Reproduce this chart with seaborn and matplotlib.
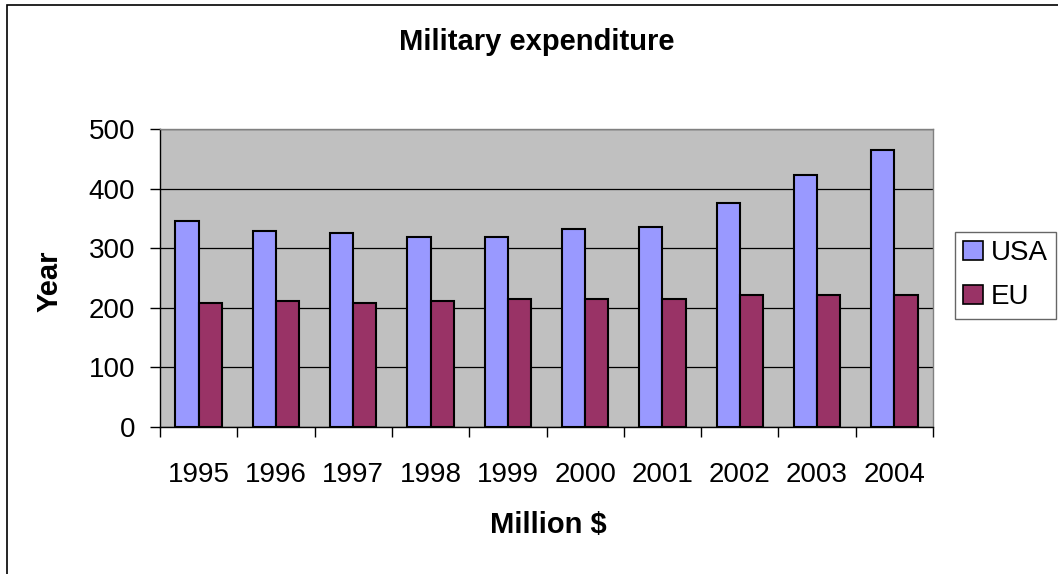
import matplotlib
matplotlib.use("Agg")
import matplotlib.pyplot as plt
import seaborn as sns
import pandas as pd
from matplotlib.patches import Rectangle, Patch
from matplotlib.ticker import FixedLocator

years = ["1995", "1996", "1997", "1998", "1999", "2000", "2001", "2002", "2003", "2004"]
usa = [346, 330, 326, 319, 319, 333, 336, 377, 424, 466]
eu = [208, 211, 208, 211, 215, 215, 215, 222, 222, 222]
series = ["USA", "EU"]
colors = ["#9999FF", "#993366"]

df = pd.DataFrame({
    "Year": years * 2,
    "Value": usa + eu,
    "Series": ["USA"] * len(years) + ["EU"] * len(years),
})

sns.set_style("white")
plt.rcParams["font.family"] = ["Liberation Sans", "DejaVu Sans"]
plt.rcParams["text.color"] = "black"
plt.rcParams["xtick.color"] = "black"
plt.rcParams["ytick.color"] = "black"
plt.rcParams["xtick.labelcolor"] = "black"
plt.rcParams["ytick.labelcolor"] = "black"

W, H = 1058, 574
fig = plt.figure(figsize=(W / 100, H / 100), dpi=100)
ax = fig.add_axes([160 / W, 1 - 427 / H, (933 - 160) / W, (427 - 129.3) / H])
ax.set_facecolor("#C0C0C0")

sns.barplot(data=df, x="Year", y="Value", hue="Series", hue_order=series,
            palette=colors, width=0.6, edgecolor="black", linewidth=1.5,
            saturation=1, ax=ax, legend=False, zorder=3)

ax.set_ylim(0, 500)
ax.set_xlim(-0.5, len(years) - 0.5)
ax.set_yticks([0, 100, 200, 300, 400, 500])
ax.yaxis.grid(True, color="black", linewidth=0.9, zorder=1)
ax.set_axisbelow(True)

ax.xaxis.set_minor_locator(FixedLocator([i - 0.5 for i in range(len(years) + 1)]))
ax.tick_params(axis="x", which="major", length=0, pad=25, labelsize=20, labelcolor="black")
ax.tick_params(axis="x", which="minor", length=7, width=1, color="black", direction="out", bottom=True)
ax.tick_params(axis="y", which="major", length=7, width=1, color="black", direction="out", left=True,
               labelsize=20, pad=11, labelcolor="black")

for s in ["left", "bottom"]:
    ax.spines[s].set_color("black")
    ax.spines[s].set_linewidth(1)
for s in ["top", "right"]:
    ax.spines[s].set_color("#808080")
    ax.spines[s].set_linewidth(1)

ax.set_xlabel("")
ax.set_ylabel("")

fig.text(537 / W, 1 - 42 / H, "Military expenditure", ha="center", va="center",
         fontsize=21, fontweight="bold", color="black")
fig.text(548 / W, 1 - 525 / H, "Million $", ha="center", va="center",
         fontsize=21, fontweight="bold", color="black")
fig.text(50 / W, 1 - 281 / H, "Year", ha="center", va="center", rotation=90,
         fontsize=21, fontweight="bold", color="black")

handles = [Patch(facecolor=c, edgecolor="black", linewidth=1.2) for c in colors]
leg = fig.legend(handles, series, loc="upper left",
                 bbox_to_anchor=(955 / W, 1 - 232 / H),
                 fontsize=20, frameon=True, fancybox=False, edgecolor="#404040",
                 handlelength=0.7, handleheight=0.7, handletextpad=0.3,
                 borderpad=0.3, labelspacing=0.65, borderaxespad=0)
leg.get_frame().set_linewidth(1)
for t in leg.get_texts():
    t.set_color("black")

fig.patches.append(Rectangle((7 / W, -0.05), 1.1, 1 - 5 / H + 0.05,
                             transform=fig.transFigure, fill=False,
                             edgecolor="black", linewidth=1.2, clip_on=False))

fig.savefig("out.png", dpi=100)
